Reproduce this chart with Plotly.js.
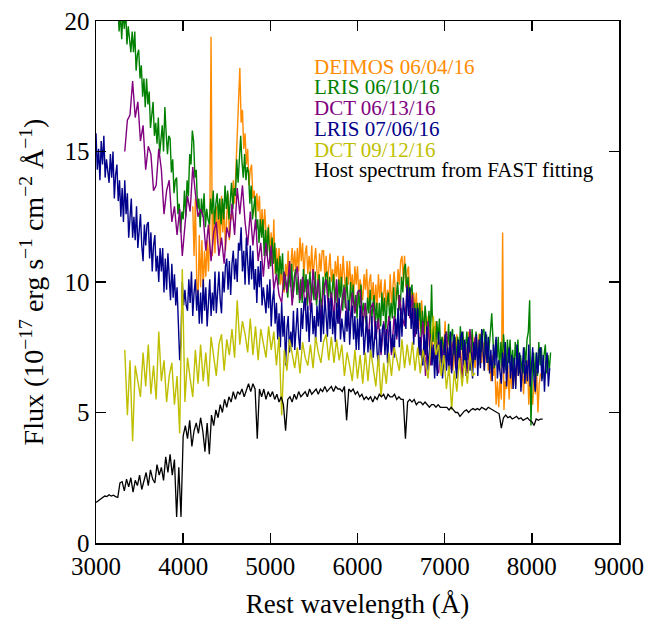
<!DOCTYPE html>
<html>
<head>
<meta charset="utf-8">
<script src="https://cdn.plot.ly/plotly-3.0.1.min.js"></script>
<style>html,body{margin:0;padding:0;background:#fff;}</style>
</head>
<body>
<div id="chart" style="width:660px;height:622px;"></div>
<script>
// ---- Data (flux in 1e-17 erg/s/cm2/A) ----
const seriesNames = ["DEIMOS 06/04/16", "LRIS 06/10/16", "DCT 06/13/16", "LRIS 07/06/16", "DCT 09/12/16", "Host spectrum from FAST fitting"];
const seriesColors = ["#ff8c00", "#008000", "#800080", "#00008b", "#bfbf00", "#000000"];

// DEIMOS 06/04/16: start 4110 A, step 15 A
const deimosStart = 4110, deimosStep = 15;
const deimosFlux = [
12.9,11.0,13.2,10.1,9.2,11.8,9.8,11.6,9.7,11.2,
10.2,11.6,10.4,12.0,19.4,11.0,12.7,11.1,12.9,11.5,
13.0,11.4,13.3,11.9,12.9,11.2,12.5,13.4,11.6,12.6,
12.4,13.9,13.0,14.3,15.6,16.7,18.2,16.1,16.6,15.1,
15.7,14.5,15.1,13.7,14.3,14.5,13.2,13.5,12.5,13.4,
12.7,13.3,11.9,12.8,11.7,12.8,11.8,11.1,12.2,11.1,
11.9,10.7,12.4,10.3,11.3,10.4,11.3,9.9,10.4,9.8,
9.6,10.7,10.2,11.2,10.0,10.8,11.3,10.4,11.2,10.3,
11.3,10.4,11.7,10.8,11.5,10.2,11.1,11.4,10.3,11.0,
10.3,11.4,10.1,10.8,11.3,10.4,9.9,11.1,10.4,11.2,
11.2,10.2,11.0,9.9,10.7,11.1,10.0,10.5,9.7,10.8,
10.2,11.0,9.7,10.7,9.8,11.0,10.2,9.6,10.8,9.9,
10.8,9.7,10.3,9.4,10.6,9.9,10.6,9.5,10.1,9.6,
9.3,10.3,9.7,10.5,9.2,10.0,10.3,9.3,10.0,9.0,
9.9,9.0,10.3,9.4,10.1,8.9,9.7,10.1,9.0,9.7,
9.1,10.3,9.1,9.8,10.4,9.6,9.3,10.5,9.9,10.8,
11.0,10.1,11.0,9.8,10.4,10.6,9.3,9.7,8.7,9.6,
8.9,9.6,8.2,9.2,8.2,9.3,8.4,7.8,8.9,7.9,
8.7,7.5,8.2,7.2,8.4,7.6,8.5,7.1,7.8,7.2,
6.9,7.9,7.3,8.5,6.9,7.6,8.0,7.0,7.7,6.6,
7.6,6.7,8.0,7.1,7.8,6.6,7.5,7.9,6.8,7.5,
7.0,8.1,6.8,7.5,8.0,7.1,6.7,7.9,7.2,8.0,
8.0,6.9,7.7,6.6,7.4,7.7,6.6,7.1,6.2,7.2,
6.4,6.9,5.3,6.2,5.2,6.3,5.5,11.9,5.1,6.2,
5.9,6.8,5.5,6.7,5.9,7.1,6.4,6.0,7.2,6.4,
7.2,6.0,6.7,5.7,6.9,6.1,7.0,5.3,6.2,5.6,
5.3,6.3,5.7,6.6,5.0,6.1,6.5];

// LRIS 06/10/16: start 3250 A, step 15 A
const lris1Start = 3250, lris1Step = 15;
const lris1Flux = [
20.8,19.6,20.3,19.3,20.4,19.7,20.5,19.1,19.8,19.2,
18.8,19.6,18.8,19.6,18.1,18.7,18.9,17.8,18.3,17.1,
17.8,16.7,17.8,16.8,17.3,15.9,16.6,16.9,15.6,16.1,
15.3,16.3,14.9,15.6,16.0,15.0,16.7,15.7,14.9,15.6,
15.5,14.2,14.7,13.4,13.9,14.0,12.6,13.0,11.9,12.7,
12.4,13.5,12.5,13.9,13.3,14.9,14.5,15.8,15.4,14.0,
14.3,12.8,13.2,12.1,13.2,12.5,13.4,12.1,12.8,12.4,
12.2,13.2,12.6,13.5,12.2,13.0,13.4,12.4,13.2,12.2,
13.2,12.4,13.7,12.8,13.5,12.4,13.3,13.8,12.8,13.6,
13.3,14.7,13.8,14.9,15.6,14.6,14.0,14.9,13.9,14.4,
14.2,13.0,13.7,12.4,13.0,13.3,12.0,12.4,11.5,12.4,
11.7,12.4,11.0,12.0,11.0,12.1,11.2,10.6,11.7,10.7,
11.5,10.3,10.9,9.9,11.0,10.3,11.1,9.7,10.3,9.7,
9.4,10.4,9.8,10.7,9.4,10.2,10.5,9.5,10.2,9.2,
10.1,9.2,10.5,9.6,10.3,9.1,10.0,10.4,9.3,10.0,
9.3,10.4,9.1,9.8,10.3,9.4,9.0,10.2,9.5,10.3,
10.4,9.4,10.2,9.1,9.9,10.3,9.2,9.8,9.0,10.1,
9.4,10.2,8.9,9.9,9.0,10.2,9.4,8.9,10.0,9.1,
9.9,8.8,9.5,8.6,9.7,9.0,9.9,8.6,9.2,8.7,
8.4,9.4,8.8,9.7,8.4,9.1,9.5,8.5,9.2,8.2,
9.2,8.3,9.6,8.7,9.4,8.2,9.2,9.6,8.5,9.2,
8.6,9.8,8.6,9.4,10.0,9.2,8.9,10.2,9.6,10.5,
10.7,9.6,10.2,9.0,9.7,9.9,8.7,9.2,8.2,9.2,
8.5,9.2,7.9,8.9,7.9,9.1,8.3,7.8,8.9,8.0,
9.9,7.7,8.3,7.4,8.5,7.8,8.6,7.3,7.9,7.4,
7.1,8.1,7.5,8.4,7.1,7.9,8.2,7.2,7.9,6.9,
7.9,7.0,8.3,7.4,8.1,6.9,7.7,8.1,7.0,7.7,
7.1,8.2,6.9,7.6,8.1,7.2,6.8,8.0,7.3,8.1,
8.2,7.2,8.0,6.9,7.7,8.1,8.8,7.5,6.7,7.8,
7.1,7.9,6.6,7.7,6.8,8.0,7.2,6.6,7.8,6.9,
7.8,6.7,7.4,6.5,7.7,7.0,7.8,6.5,7.2,6.7,
6.5,7.5,6.9,7.8,8.1,9.3,4.5,6.6,7.3,6.3,
7.3,6.4,7.7,6.8,7.5,6.3,7.2,7.6,6.5,7.2,
6.6,7.3];

// DCT 06/13/16: start 3330 A, step 30 A
const dct1Start = 3330, dct1Step = 30;
const dct1Flux = [
15.0,16.2,16.4,17.7,16.3,16.9,15.4,16.0,14.3,15.2,
14.9,13.5,13.7,15.1,14.3,12.6,13.5,13.9,12.3,12.9,
11.8,12.8,11.0,12.1,13.3,12.7,14.4,13.4,12.5,12.8,
12.5,11.2,12.2,10.8,11.9,12.3,11.0,11.7,10.7,12.1,
11.7,13.0,11.8,13.6,12.6,13.7,12.3,11.4,12.7,11.4,
12.4,10.8,11.5,10.2,11.5,10.5,11.4,9.7,10.3,9.5,
9.2,10.4,9.6,10.8,9.1,10.1,10.6,9.3,10.2,8.9,
10.1,8.9,10.5,9.3,10.1,8.5,9.7,10.1,8.8,9.6,
8.7,10.1,8.4,9.2,9.8,8.7,8.2,9.6,8.8,9.6,
9.7,8.3,9.2,7.7,9.0,9.2,7.8,8.6,7.2,8.5,
7.7,8.7,7.2,8.7,7.8,9.5,8.7,8.3,9.9,8.6,
9.5,7.9,8.6,7.2,8.5,6.4,8.5,6.8,7.5,6.8,
6.5,7.7,6.9,8.1,6.4,7.4,7.9,6.7,7.6,6.3,
7.7,6.5,8.2,7.0,7.9,7.0];

// LRIS 07/06/16: start 3000 A, step 15 A
const lris2Start = 3000, lris2Step = 15;
const lris2Flux = [
15.7,14.3,15.1,13.9,15.4,14.5,15.6,14.0,14.7,14.1,
13.8,14.9,14.0,15.0,13.2,14.1,14.5,13.1,13.9,12.5,
13.6,12.3,13.9,12.6,13.4,11.7,12.7,13.2,11.7,12.5,
11.6,12.9,11.3,12.0,12.6,11.4,10.8,12.2,11.4,12.2,
12.3,10.9,11.9,10.4,11.4,11.8,10.4,11.0,10.0,11.3,
10.4,11.3,9.6,10.9,9.7,11.1,10.0,9.3,10.7,9.4,
10.3,9.1,9.8,8.4,7.0,7.8,10.0,9.1,9.7,9.1,
8.9,10.1,9.2,10.4,8.7,9.6,10.1,8.9,9.7,8.4,
9.6,8.4,10.1,8.9,9.8,8.3,9.5,10.1,8.7,9.6,
8.9,10.4,8.8,9.7,10.4,9.3,8.8,10.4,9.6,10.6,
10.9,9.7,10.8,9.5,10.7,11.2,10.1,10.9,10.0,11.5,
11.2,12.1,10.4,11.2,9.9,11.7,10.7,9.9,11.4,10.1,
11.2,9.7,10.5,9.2,10.6,9.8,10.8,9.1,9.8,9.1,
8.8,9.9,9.0,10.1,8.3,9.3,9.7,8.4,9.2,7.8,
8.8,7.5,9.2,7.9,8.7,6.8,8.2,8.7,7.3,8.1,
7.5,8.9,7.4,8.2,9.0,7.9,7.4,9.0,8.2,9.2,
9.4,8.1,9.1,7.7,8.8,9.2,8.0,8.7,7.7,9.1,
8.3,9.3,7.7,9.1,8.0,9.5,8.5,7.9,9.4,8.2,
9.4,8.0,8.9,7.7,9.2,8.4,9.4,7.8,8.6,8.0,
7.7,8.9,8.1,9.3,7.6,8.6,9.1,7.8,8.7,7.4,
8.6,7.4,9.1,7.9,8.7,7.2,8.0,8.7,7.3,8.2,
7.3,8.7,7.1,7.9,8.5,7.3,6.8,8.2,7.3,8.2,
8.4,7.2,8.2,6.9,8.1,8.5,7.3,8.0,7.1,8.6,
7.9,9.0,7.5,9.0,7.9,9.4,8.6,8.2,9.8,8.7,
9.8,8.2,9.0,7.6,9.0,8.0,9.0,7.2,7.9,7.1,
6.8,8.0,7.2,8.3,6.6,7.5,8.0,6.8,7.6,6.3,
7.6,6.4,8.1,6.9,7.8,6.3,7.4,8.0,6.6,7.5,
6.7,8.1,6.5,7.3,8.0,6.8,6.3,7.8,7.0,7.9,
8.1,6.8,7.8,6.4,7.5,7.9,6.6,7.3,6.3,7.7,
7.0,8.0,6.4,7.8,6.7,8.2,7.2,6.6,8.1,6.9,
7.9,6.5,7.4,6.2,7.6,6.8,7.9,6.3,7.0,6.4,
6.1,7.3,6.5,7.7,6.0,7.0,7.5,6.3,7.2,5.9,
7.1,5.9,7.6,6.4,7.3,5.8,6.9,7.5,6.1,7.0,
6.2,7.6,6.0,6.8,7.5,6.3,5.8,7.3,6.5,7.4,
7.5,6.2,7.2,5.8,6.9,7.3,6.0,6.7];

// DCT 09/12/16: start 3330 A, step 30 A
const dct2Start = 3330, dct2Step = 30;
const dct2Flux = [
7.4,4.9,7.0,3.9,6.8,6.2,5.6,7.3,6.0,7.6,
5.7,6.8,5.5,8.1,6.2,7.0,5.4,6.4,6.9,5.3,
6.4,4.2,10.5,5.4,7.1,6.3,5.6,7.4,6.1,7.6,
6.2,7.3,6.0,7.9,7.1,6.4,7.6,8.0,6.6,7.8,
7.2,8.2,7.1,9.3,7.6,8.5,8.0,7.3,8.6,7.2,
8.3,7.0,8.2,7.6,7.1,8.3,7.4,8.1,6.8,7.9,
4.9,7.4,6.6,7.8,7.2,6.7,7.5,6.5,7.7,7.1,
6.8,7.6,6.7,7.9,7.3,6.9,7.7,8.0,7.0,7.9,
6.9,7.8,7.0,7.6,6.4,7.3,6.8,6.2,7.4,6.3,
7.2,6.1,7.3,6.2,7.4,6.6,6.0,7.2,5.6,6.9,
6.1,7.3,6.4,7.5,7.0,6.6,7.8,6.7,7.6,6.8,
7.7,6.6,7.5,6.5,7.4,6.9,6.3,7.6,8.7,7.2,
7.6,6.4,7.2,5.9,6.8,5.1,6.6,5.8,7.1,6.0,
7.0,6.1,7.3,6.4,6.5];

// Host spectrum (FAST fit): start 3000 A, step 25 A
const hostStart = 3000, hostStep = 25;
const hostFlux = [
1.55,1.62,1.68,1.75,1.8,1.78,1.85,1.8,
1.83,1.78,1.75,2.3,2.35,2.0,2.45,2.15,
2.5,1.95,2.4,2.2,2.6,2.05,2.35,2.7,
2.2,2.8,2.45,2.3,3.0,2.6,2.9,2.4,
3.3,2.7,3.4,2.6,3.2,1.0,2.9,1.0,
4.1,4.5,4.0,4.7,3.7,4.3,4.6,4.2,
4.8,4.3,3.5,4.6,3.4,4.9,4.5,5.1,
4.8,5.3,5.0,5.5,5.2,5.6,5.4,5.8,
5.5,5.8,5.7,5.9,5.6,5.9,6.1,5.8,
6.1,5.9,4.0,5.9,5.6,5.9,5.5,5.8,
5.6,5.8,5.5,5.7,5.4,5.6,5.3,4.3,
5.5,5.6,5.4,5.7,5.5,5.8,5.6,5.7,
5.8,5.6,5.9,5.7,5.8,5.9,5.7,5.9,
5.8,6.0,5.8,5.9,6.0,5.8,6.0,5.9,
5.9,5.8,6.0,4.7,5.9,5.8,5.9,5.7,
5.8,5.6,5.7,5.5,5.6,5.5,5.6,5.4,
5.6,5.5,5.7,5.6,5.7,5.5,5.7,5.6,
5.6,5.7,5.5,5.6,5.5,5.5,4.0,5.4,
5.5,5.4,5.5,5.3,5.4,5.4,5.3,5.4,
5.3,5.2,5.3,5.3,5.2,5.3,5.2,5.2,
5.2,5.2,5.1,5.2,5.1,5.0,5.0,4.85,
4.95,5.05,5.1,5.0,5.1,5.15,5.1,5.15,
5.1,5.2,5.15,5.1,5.2,5.15,5.1,5.05,
5.0,4.95,4.4,4.8,4.9,4.8,4.85,4.75,
4.8,4.85,4.75,4.8,4.7,4.75,4.8,4.7,
4.65,4.5,4.75,4.7,4.75,4.75];

const xTicks = [3000, 4000, 5000, 6000, 7000, 8000, 9000];
const yTicks = [0, 5, 10, 15, 20];

// ---- Traces (drawing order: DEIMOS, LRIS1, DCT1, LRIS2, DCT2, Host) ----
const specs = [
  {y: deimosFlux, x0: deimosStart, dx: deimosStep, w: 1.4},
  {y: lris1Flux, x0: lris1Start, dx: lris1Step, w: 1.4},
  {y: dct1Flux, x0: dct1Start, dx: dct1Step, w: 1.4},
  {y: lris2Flux, x0: lris2Start, dx: lris2Step, w: 1.4},
  {y: dct2Flux, x0: dct2Start, dx: dct2Step, w: 1.4},
  {y: hostFlux, x0: hostStart, dx: hostStep, w: 1.3}
];
const traces = specs.map((s, i) => ({
  type: 'scatter', mode: 'lines', name: seriesNames[i],
  y: s.y, x0: s.x0, dx: s.dx,
  line: {color: seriesColors[i], width: s.w},
  hoverinfo: 'skip', showlegend: false
}));

const FONT = 'Liberation Serif, Times New Roman, serif';
const legendY = [0.912, 0.873, 0.833, 0.793, 0.753, 0.715];
const annotations = seriesNames.map((n, i) => ({
  xref: 'paper', yref: 'paper', x: 0.413, y: legendY[i],
  xanchor: 'left', yanchor: 'middle', showarrow: false,
  text: n, font: {family: FONT, size: 21, color: seriesColors[i]}
}));

const axisCommon = {
  ticks: 'inside', ticklen: 10, tickwidth: 1.5, tickcolor: '#000',
  showline: true, linewidth: 1.5, linecolor: '#000', mirror: 'ticks',
  showgrid: false, zeroline: false,
  tickfont: {family: FONT, size: 25, color: '#000'}
};

const layout = {
  width: 660, height: 622,
  margin: {l: 96, r: 41, t: 21, b: 79},
  paper_bgcolor: '#fff', plot_bgcolor: '#fff',
  font: {family: FONT, color: '#000'},
  showlegend: false,
  xaxis: Object.assign({}, axisCommon, {
    range: [3000, 9000], tickmode: 'array', tickvals: xTicks,
    title: {text: 'Rest wavelength (Å)', font: {family: FONT, size: 27, color: '#000'}, standoff: 15}
  }),
  yaxis: Object.assign({}, axisCommon, {
    range: [0, 20], tickmode: 'array', tickvals: yTicks,
    title: {text: 'Flux (10<sup>−17</sup> erg s<sup>−1</sup> cm<sup>−2</sup> Å<sup>−1</sup>)', font: {family: FONT, size: 28, color: '#000'}, standoff: 12}
  }),
  annotations: annotations
};

Plotly.newPlot('chart', traces, layout, {displayModeBar: false, staticPlot: true});
</script>
</body>
</html>
